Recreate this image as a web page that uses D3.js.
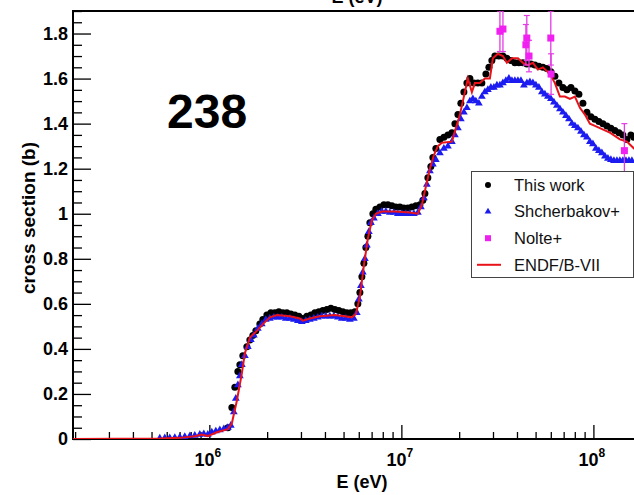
<!DOCTYPE html>
<html><head><meta charset="utf-8">
<script src="https://cdn.jsdelivr.net/npm/d3@7"></script>
<style>
body{margin:0;background:#fff;}
svg{display:block;font-family:"Liberation Sans",Arial,Helvetica,sans-serif;}
</style></head><body>
<svg id="c" width="634" height="495"></svg>
<script>
// ---- Data (E in eV, cross section in barn) ----
const thisWorkE = [1.248e6,1.310e6,1.358e6,1.408e6,1.442e6,1.494e6,1.568e6,1.625e6,1.685e6,1.747e6,1.832e6,1.899e6,1.993e6,2.091e6,2.194e6,2.301e6,2.414e6,2.533e6,2.658e6,2.789e6,2.925e6,3.069e6,3.219e6,3.378e6,3.544e6,3.717e6,3.900e6,4.093e6,4.294e6,4.504e6,4.725e6,4.958e6,5.201e6,5.458e6,5.725e6,5.934e6,6.081e6,6.228e6,6.379e6,6.533e6,6.692e6,6.854e6,7.105e6,7.365e6,7.727e6,8.108e6,8.506e6,8.924e6,9.362e6,9.822e6,1.030e7,1.081e7,1.134e7,1.190e7,1.249e7,1.294e7,1.326e7,1.374e7,1.424e7,1.459e7,1.512e7,1.587e7,1.665e7,1.747e7,1.833e7,1.900e7,1.970e7,2.041e7,2.116e7,2.194e7,2.274e7,2.386e7,2.502e7,2.625e7,2.755e7,2.856e7,2.960e7,3.069e7,3.220e7,3.378e7,3.544e7,3.719e7,3.901e7,4.093e7,4.295e7,4.505e7,4.727e7,4.958e7,5.202e7,5.458e7,5.726e7,6.007e7,6.302e7,6.612e7,6.937e7,7.278e7,7.637e7,8.010e7,8.405e7,8.818e7,9.250e7,9.705e7,1.018e8,1.068e8,1.121e8,1.176e8,1.233e8,1.294e8,1.358e8,1.424e8,1.494e8,1.568e8,1.625e8];
const thisWorkXS = [0.05,0.14,0.23,0.30,0.33,0.37,0.41,0.44,0.46,0.48,0.51,0.53,0.55,0.56,0.56,0.565,0.56,0.56,0.555,0.55,0.545,0.535,0.545,0.55,0.56,0.565,0.57,0.575,0.58,0.575,0.57,0.565,0.56,0.56,0.565,0.60,0.65,0.72,0.78,0.85,0.90,0.96,1.00,1.02,1.03,1.04,1.04,1.035,1.03,1.03,1.025,1.025,1.03,1.035,1.04,1.06,1.09,1.16,1.21,1.25,1.29,1.33,1.34,1.35,1.36,1.40,1.44,1.49,1.54,1.58,1.60,1.58,1.58,1.58,1.62,1.65,1.68,1.70,1.70,1.70,1.69,1.68,1.67,1.67,1.67,1.665,1.665,1.66,1.655,1.65,1.645,1.63,1.61,1.58,1.56,1.55,1.56,1.545,1.53,1.49,1.45,1.43,1.42,1.41,1.40,1.39,1.38,1.37,1.36,1.35,1.33,1.35,1.34];

const shcherbakovE = [5.52e5,5.86e5,6.22e5,6.61e5,7.02e5,7.45e5,7.92e5,8.40e5,8.92e5,9.36e5,9.82e5,1.030e6,1.081e6,1.134e6,1.190e6,1.248e6,1.294e6,1.341e6,1.374e6,1.408e6,1.442e6,1.476e6,1.531e6,1.586e6,1.645e6,1.705e6,1.789e6,1.876e6,1.969e6,2.066e6,2.168e6,2.274e6,2.386e6,2.502e6,2.626e6,2.755e6,2.890e6,3.032e6,3.181e6,3.337e6,3.501e6,3.673e6,3.853e6,4.045e6,4.242e6,4.450e6,4.669e6,4.898e6,5.140e6,5.393e6,5.657e6,5.864e6,6.006e6,6.154e6,6.303e6,6.456e6,6.612e6,6.772e6,6.937e6,7.191e6,7.544e6,7.914e6,8.304e6,8.712e6,9.140e6,9.590e6,1.006e7,1.055e7,1.107e7,1.162e7,1.219e7,1.264e7,1.310e7,1.358e7,1.408e7,1.459e7,1.512e7,1.587e7,1.665e7,1.747e7,1.833e7,1.900e7,1.970e7,2.041e7,2.116e7,2.194e7,2.274e7,2.357e7,2.443e7,2.533e7,2.625e7,2.722e7,2.822e7,2.925e7,3.032e7,3.144e7,3.259e7,3.378e7,3.502e7,3.631e7,3.764e7,3.901e7,4.045e7,4.193e7,4.345e7,4.505e7,4.670e7,4.842e7,5.018e7,5.202e7,5.392e7,5.590e7,5.794e7,6.007e7,6.227e7,6.454e7,6.692e7,6.937e7,7.192e7,7.455e7,7.727e7,8.010e7,8.305e7,8.610e7,8.924e7,9.250e7,9.589e7,9.941e7,1.030e8,1.068e8,1.107e8,1.148e8,1.190e8,1.233e8,1.279e8,1.326e8,1.374e8,1.424e8,1.477e8,1.531e8,1.587e8];
const shcherbakovXS = [0.003,0.004,0.005,0.006,0.008,0.010,0.013,0.016,0.02,0.022,0.02,0.03,0.035,0.04,0.045,0.05,0.06,0.12,0.18,0.24,0.28,0.33,0.37,0.41,0.44,0.46,0.49,0.51,0.53,0.535,0.54,0.54,0.54,0.535,0.535,0.53,0.525,0.52,0.525,0.53,0.535,0.54,0.545,0.545,0.545,0.545,0.54,0.535,0.535,0.53,0.535,0.56,0.62,0.68,0.74,0.80,0.86,0.92,0.96,0.98,1.00,1.01,1.01,1.005,1.005,1.00,1.00,1.00,1.00,1.00,1.005,1.03,1.07,1.13,1.19,1.22,1.24,1.27,1.29,1.30,1.32,1.35,1.38,1.42,1.45,1.47,1.50,1.51,1.50,1.49,1.52,1.54,1.55,1.56,1.56,1.57,1.57,1.58,1.59,1.60,1.59,1.59,1.59,1.59,1.57,1.58,1.585,1.58,1.57,1.56,1.54,1.53,1.52,1.51,1.495,1.48,1.465,1.45,1.435,1.42,1.40,1.39,1.38,1.365,1.35,1.34,1.32,1.31,1.29,1.28,1.27,1.255,1.245,1.24,1.235,1.235,1.235,1.235,1.235,1.235,1.235];

const nolteE = [3.26e7,3.38e7,4.45e7,4.50e7,4.62e7,6.00e7,6.02e7,1.45e8];
const nolteXS = [1.81,1.82,1.75,1.78,1.70,1.78,1.62,1.28];
const nolteErr = [0.09,0.10,0.09,0.10,0.07,0.12,0.09,0.12];

const endfE = [1.95e5,5.52e5,7.02e5,8.40e5,9.14e5,9.82e5,1.094e6,1.248e6,1.310e6,1.391e6,1.476e6,1.531e6,1.625e6,1.768e6,1.899e6,2.066e6,2.246e6,2.626e6,2.960e6,3.069e6,3.337e6,3.762e6,4.504e6,5.079e6,5.523e6,5.794e6,6.081e6,6.379e6,6.692e6,7.021e6,7.365e6,7.914e6,9.250e6,1.107e7,1.219e7,1.279e7,1.341e7,1.408e7,1.477e7,1.549e7,1.626e7,1.833e7,1.923e7,2.017e7,2.116e7,2.220e7,2.329e7,2.414e7,2.563e7,2.722e7,2.890e7,2.996e7,3.182e7,3.378e7,3.544e7,3.764e7,4.045e7,4.295e7,4.560e7,4.842e7,5.140e7,5.458e7,5.935e7,6.302e7,6.692e7,7.106e7,7.546e7,8.010e7,8.507e7,9.033e7,9.589e7,1.018e8,1.081e8,1.219e8,1.374e8,1.494e8,1.625e8,1.750e8];
const endfXS = [0,0.002,0.005,0.012,0.02,0.013,0.03,0.044,0.07,0.17,0.29,0.38,0.45,0.48,0.51,0.54,0.55,0.545,0.535,0.525,0.535,0.545,0.55,0.545,0.54,0.555,0.63,0.77,0.89,0.97,1.00,1.01,1.01,1.005,1.00,1.04,1.12,1.20,1.26,1.30,1.315,1.32,1.38,1.44,1.52,1.60,1.54,1.58,1.58,1.60,1.60,1.69,1.71,1.70,1.67,1.69,1.69,1.67,1.66,1.67,1.64,1.65,1.62,1.58,1.52,1.52,1.51,1.52,1.47,1.44,1.40,1.39,1.38,1.36,1.33,1.32,1.29,1.27];

const xDomain = [1.95e5, 3.59e8];
const yDomain = [0, 1.9];
const xMajorTicks = [1e6, 1e7, 1e8];
const xTickExponents = ["6", "7", "8"];
const yMajorTicks = [0, 0.2, 0.4, 0.6, 0.8, 1.0, 1.2, 1.4, 1.6, 1.8];
const yTickLabels = ["0", "0.2", "0.4", "0.6", "0.8", "1", "1.2", "1.4", "1.6", "1.8"];
const legendLabels = ["This work", "Shcherbakov+", "Nolte+", "ENDF/B-VII"];

// ---- Layout ----
const L = 73, R = 700, T = 11, B = 439;
const svg = d3.select("#c");
const x = d3.scaleLog().domain(xDomain).range([L, R]);
const y = d3.scaleLinear().domain(yDomain).range([B, T]);
const font = '"Liberation Sans",Arial,Helvetica,sans-serif';

svg.append("defs").append("clipPath").attr("id","clip")
  .append("rect").attr("x", L).attr("y", T).attr("width", R - L).attr("height", B - T);

// Frame
svg.append("rect").attr("x", L).attr("y", T).attr("width", R - L).attr("height", B - T)
  .attr("fill","none").attr("stroke","#000").attr("stroke-width",2);

// Y axis (ticks point inward)
const yMinor = d3.range(0, 1.9001, 0.05).filter(v => yMajorTicks.every(m => Math.abs(m - v) > 1e-6));
const gyMinor = svg.append("g").attr("transform", `translate(${L},0)`)
  .call(d3.axisLeft(y).tickValues(yMinor).tickSize(-9).tickFormat(""));
const gy = svg.append("g").attr("transform", `translate(${L},0)`)
  .call(d3.axisLeft(y).tickValues(yMajorTicks).tickSize(-18).tickPadding(5)
    .tickFormat((d, i) => yTickLabels[i]));
[gy, gyMinor].forEach(g => { g.select(".domain").remove(); g.selectAll(".tick line").attr("stroke","#000").attr("stroke-width",1.3); });
gy.selectAll(".tick text").attr("font-family", font).attr("font-size", 18).attr("font-weight","bold").attr("fill","#000");

// X axis
const xMinor = x.ticks().filter(v => !xMajorTicks.some(m => Math.abs(m - v) / m < 1e-6));
const gxMinor = svg.append("g").attr("transform", `translate(0,${B})`)
  .call(d3.axisBottom(x).tickValues(xMinor).tickSize(-7).tickFormat(""));
const gx = svg.append("g").attr("transform", `translate(0,${B})`)
  .call(d3.axisBottom(x).tickValues(xMajorTicks).tickSize(-14).tickFormat(""));
[gx, gxMinor].forEach(g => { g.select(".domain").remove(); g.selectAll(".tick line").attr("stroke","#000").attr("stroke-width",1.3); });
gx.selectAll(".tick").each(function(d, i) {
  const t = d3.select(this).select("text");
  t.attr("y", 27).attr("dy", null).attr("x", -2).attr("font-family", font).attr("font-size", 18)
   .attr("font-weight","bold").attr("fill","#000").attr("text-anchor","middle");
  t.append("tspan").text("10");
  t.append("tspan").attr("dy", -9).attr("font-size", 12).text(xTickExponents[i]);
});

// Axis titles
svg.append("text").attr("x", 362).attr("y", 488).attr("text-anchor","middle")
  .attr("font-family", font).attr("font-size", 18).attr("font-weight","bold").text("E (eV)");
svg.append("text").attr("x", 357).attr("y", 3).attr("text-anchor","middle")
  .attr("font-family", font).attr("font-size", 18).attr("font-weight","bold").text("E (eV)");
svg.append("text").attr("transform", "translate(35,218) rotate(-90)").attr("text-anchor","middle")
  .attr("font-family", font).attr("font-size", 19).attr("font-weight","bold").text("cross section (b)");

// 238 label
svg.append("text").attr("x", 167).attr("y", 128).attr("font-family", font)
  .attr("font-size", 48).attr("font-weight","bold").text("238");

// ---- Data marks ----
const plot = svg.append("g").attr("clip-path","url(#clip)");
const tri = d3.symbol().type(d3.symbolTriangle).size(26);

const black = thisWorkE.map((e, i) => ({e, v: thisWorkXS[i]}));
const blue = shcherbakovE.map((e, i) => ({e, v: shcherbakovXS[i]}));
const endf = endfE.map((e, i) => ({e, v: endfXS[i]}));
const nolte = nolteE.map((e, i) => ({e, v: nolteXS[i], err: nolteErr[i]}));

plot.append("g").selectAll("circle").data(black).join("circle")
  .attr("cx", d => x(d.e)).attr("cy", d => y(d.v)).attr("r", 3.5).attr("fill", "#000");

plot.append("g").selectAll("path").data(blue).join("path")
  .attr("d", tri).attr("transform", d => `translate(${x(d.e)},${y(d.v)})`).attr("fill", "#1c1cf0");

plot.append("path").datum(endf)
  .attr("d", d3.line().x(d => x(d.e)).y(d => y(d.v)))
  .attr("fill","none").attr("stroke","#e8121a").attr("stroke-width",2);

const ng = plot.append("g");
nolte.forEach(d => {
  const cx = x(d.e), y1 = y(d.v + d.err), y2 = y(d.v - d.err);
  ng.append("line").attr("x1", cx).attr("x2", cx).attr("y1", y1).attr("y2", y2).attr("stroke","#e43ce4").attr("stroke-width",1.3);
  [y1, y2].forEach(yy => ng.append("line").attr("x1", cx - 3).attr("x2", cx + 3).attr("y1", yy).attr("y2", yy).attr("stroke","#e43ce4").attr("stroke-width",1.2));
});
ng.selectAll("rect").data(nolte).join("rect")
  .attr("x", d => x(d.e) - 3.5).attr("y", d => y(d.v) - 3.5).attr("width", 7).attr("height", 7).attr("fill", "#f020f0");

// ---- Legend ----
const lg = svg.append("g");
lg.append("rect").attr("x", 471.5).attr("y", 171.5).attr("width", 162).attr("height", 106)
  .attr("fill","#fff").attr("stroke","#444").attr("stroke-width",1);
const rowY = i => 185 + i * 26.6;
legendLabels.forEach((lab, i) => {
  lg.append("text").attr("x", 514).attr("y", rowY(i)).attr("dy","0.35em")
    .attr("font-family", font).attr("font-size", 16.5).attr("fill","#111").text(lab);
});
lg.append("circle").attr("cx", 488).attr("cy", rowY(0)).attr("r", 3).attr("fill","#000");
lg.append("path").attr("d", d3.symbol().type(d3.symbolTriangle).size(20)).attr("transform", `translate(488,${rowY(1)})`).attr("fill","#1c1cf0");
lg.append("rect").attr("x", 485).attr("y", rowY(2) - 3).attr("width", 6).attr("height", 6).attr("fill","#f020f0");
lg.append("line").attr("x1", 477).attr("x2", 501).attr("y1", rowY(3)).attr("y2", rowY(3)).attr("stroke","#e8121a").attr("stroke-width",2);
</script>
</body></html>
